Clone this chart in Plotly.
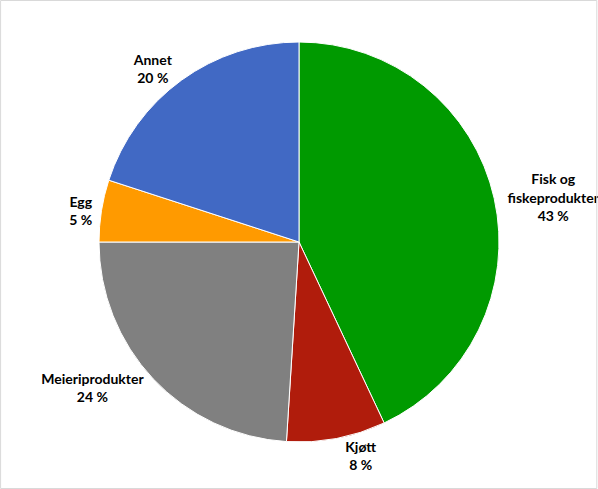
import plotly.graph_objects as go

categories = ["Fisk og<br>fiskeprodukter", "Kjøtt", "Meieriprodukter", "Egg", "Annet"]
values = [43, 8, 24, 5, 20]
colors = ["#009A00", "#B01C0C", "#808080", "#FF9A00", "#4169C4"]

W, H = 598, 489
cx, cy, r = 299, 242, 200

fig = go.Figure(go.Pie(
    labels=categories,
    values=values,
    sort=False,
    direction="clockwise",
    rotation=0,
    marker=dict(colors=colors, line=dict(color="white", width=1)),
    texttemplate="<b>%{label}</b><br><b>%{value} %</b>",
    textposition="outside",
    textfont=dict(family="Lato, Open Sans, sans-serif", size=14, color="black"),
    domain=dict(x=[(cx - r) / W, (cx + r) / W], y=[(H - cy - r) / H, (H - cy + r) / H]),
    hoverinfo="label+percent",
    showlegend=False,
))

fig.update_layout(
    width=W, height=H,
    margin=dict(l=0, r=0, t=0, b=0, autoexpand=False),
    paper_bgcolor="white",
    plot_bgcolor="white",
    shapes=[dict(type="rect", xref="paper", yref="paper", x0=0.001, y0=0.001, x1=0.998, y1=0.999,
                 line=dict(color="#D9D9D9", width=1))],
)

fig.write_html("out.html", config={"displayModeBar": False, "responsive": False},
               post_script="document.body.style.margin='0';document.body.style.overflow='hidden';")
